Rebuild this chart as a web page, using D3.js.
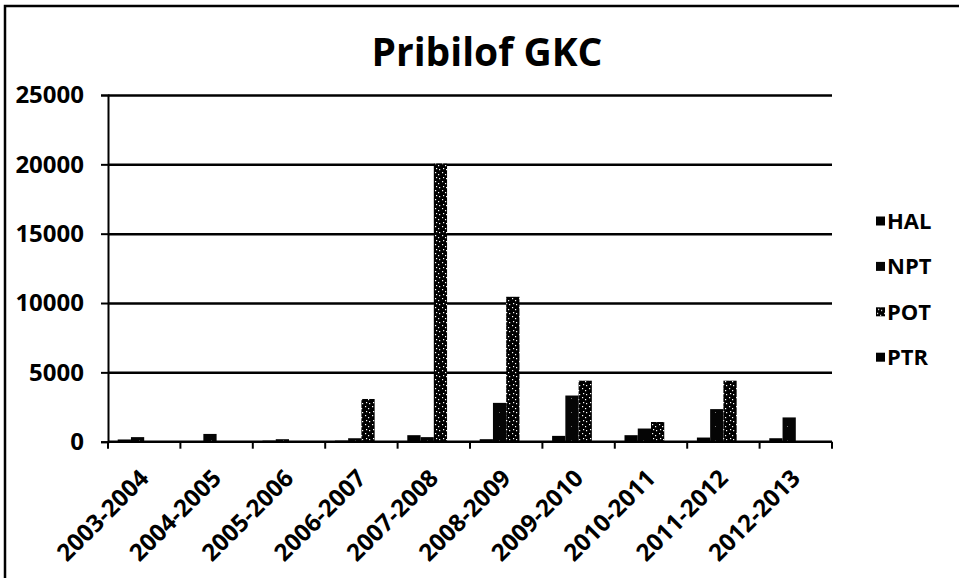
<!DOCTYPE html>
<html>
<head>
<meta charset="utf-8">
<script src="https://cdn.jsdelivr.net/npm/d3@7"></script>
<style>
  body { margin: 0; background: #fff; }
  svg { display: block; }
  text { font-family: "Open Sans", "Liberation Sans", sans-serif; font-weight: 700; fill: #000; }
</style>
</head>
<body>
<svg id="chart" width="959" height="578"></svg>
<script>
var svg = d3.select("#chart");

// Data
var seasons = ["2003-2004", "2004-2005", "2005-2006", "2006-2007", "2007-2008",
               "2008-2009", "2009-2010", "2010-2011", "2011-2012", "2012-2013"];
var gears = ["HAL", "NPT", "POT", "PTR"];
var hal = [160, 30, 80, 80, 470, 180, 420, 470, 300, 250];
var npt = [330, 560, 180, 250, 330, 2800, 3330, 950, 2350, 1750];
var pot = [20, 0, 0, 3080, 20050, 10450, 4400, 1420, 4400, 40];
var ptr = [0, 0, 0, 0, 0, 0, 0, 0, 0, 0];
var yTicks = [0, 5000, 10000, 15000, 20000, 25000];

var values = { HAL: hal, NPT: npt, POT: pot, PTR: ptr };
var rows = [];
seasons.forEach(function(s, i) {
  gears.forEach(function(g) { rows.push({ season: s, gear: g, value: values[g][i] }); });
});

// Dimensions
var dim = { left: 108, right: 832, top: 95, bottom: 441.7 };

// Fill patterns (scan is black/white)
var defs = svg.append("defs");
var potPat = defs.append("pattern")
  .attr("id", "potFill").attr("patternUnits", "userSpaceOnUse")
  .attr("width", 7).attr("height", 9);
potPat.append("rect").attr("width", 7).attr("height", 9).attr("fill", "#000");
[[1, 1], [4, 3], [2, 6], [5, 7]].forEach(function(p) {
  potPat.append("rect").attr("x", p[0]).attr("y", p[1]).attr("width", 1.2).attr("height", 1.2).attr("fill", "#fff");
});
var nptPat = defs.append("pattern")
  .attr("id", "nptFill").attr("patternUnits", "userSpaceOnUse")
  .attr("width", 9).attr("height", 14);
nptPat.append("rect").attr("width", 9).attr("height", 14).attr("fill", "#050505");
nptPat.append("rect").attr("x", 4).attr("y", 6).attr("width", 1).attr("height", 1).attr("fill", "#777");

var fills = { HAL: "#000", NPT: "url(#nptFill)", POT: "url(#potFill)", PTR: "#000" };

// Frame
svg.append("rect")
   .attr("x", 5).attr("y", 6).attr("width", 1000).attr("height", 600)
   .attr("fill", "none").attr("stroke", "#000").attr("stroke-width", 2.5);

// Title
svg.append("text")
   .attr("x", 487).attr("y", 66)
   .attr("text-anchor", "middle")
   .style("font-size", "39px")
   .text("Pribilof GKC");

// Scales
var xScale = d3.scaleBand().domain(seasons).range([dim.left, dim.right]);
var bw = xScale.bandwidth();
var xInner = d3.scaleBand().domain(gears).range([bw * 0.134, bw * 0.866]);
var yScale = d3.scaleLinear().domain([0, 25000]).range([dim.bottom, dim.top]);

// Gridlines
svg.append("g")
   .attr("class", "grid")
   .attr("transform", "translate(" + dim.left + ",0)")
   .call(d3.axisLeft(yScale).tickValues(yTicks.slice(1)).tickSize(-(dim.right - dim.left)).tickFormat(""))
   .call(function(g) { g.select(".domain").remove(); })
   .selectAll("line").attr("stroke", "#000").attr("stroke-width", 2.5);

// Bars
svg.append("g")
   .selectAll("rect")
   .data(rows)
   .enter()
   .append("rect")
   .attr("x", function(d) { return xScale(d.season) + xInner(d.gear); })
   .attr("width", xInner.bandwidth())
   .attr("y", function(d) { return yScale(d.value); })
   .attr("height", function(d) { return yScale(0) - yScale(d.value); })
   .attr("fill", function(d) { return fills[d.gear]; });

// Y axis
var yAxis = svg.append("g")
   .attr("transform", "translate(" + dim.left + ",0)")
   .call(d3.axisLeft(yScale).tickValues(yTicks).tickSize(7).tickPadding(17).tickFormat(d3.format("d")));
yAxis.select(".domain").attr("stroke", "#000").attr("stroke-width", 2);
yAxis.selectAll(".tick line").attr("stroke", "#000").attr("stroke-width", 2);
yAxis.selectAll(".tick text").style("font-size", "24px").attr("fill", "#000");

// X axis baseline and category ticks
svg.append("line")
   .attr("x1", dim.left).attr("x2", dim.right)
   .attr("y1", dim.bottom).attr("y2", dim.bottom)
   .attr("stroke", "#000").attr("stroke-width", 2.5);
var bounds = seasons.map(function(s) { return xScale(s); }).concat([dim.right]);
svg.append("g")
   .selectAll("line")
   .data(bounds)
   .enter()
   .append("line")
   .attr("x1", function(d) { return d; }).attr("x2", function(d) { return d; })
   .attr("y1", dim.bottom).attr("y2", dim.bottom + 7)
   .attr("stroke", "#000").attr("stroke-width", 2);

svg.append("g")
   .selectAll("text")
   .data(seasons)
   .enter()
   .append("text")
   .attr("text-anchor", "end")
   .attr("transform", function(d) {
     return "translate(" + (xScale(d) + bw / 2 + 6) + "," + (dim.bottom + 38) + ") rotate(-45)";
   })
   .style("font-size", "24px")
   .text(function(d) { return d; });

// Legend
var legend = svg.append("g")
   .selectAll("g")
   .data(gears)
   .enter()
   .append("g")
   .attr("transform", function(d, i) { return "translate(876," + (221 + i * 45.4) + ")"; });
legend.append("rect")
   .attr("x", 0).attr("y", -4.5).attr("width", 9).attr("height", 9)
   .attr("fill", function(d) { return fills[d]; });
legend.append("text")
   .attr("x", 11).attr("y", 8)
   .style("font-size", "22px")
   .text(function(d) { return d; });
</script>
</body>
</html>
